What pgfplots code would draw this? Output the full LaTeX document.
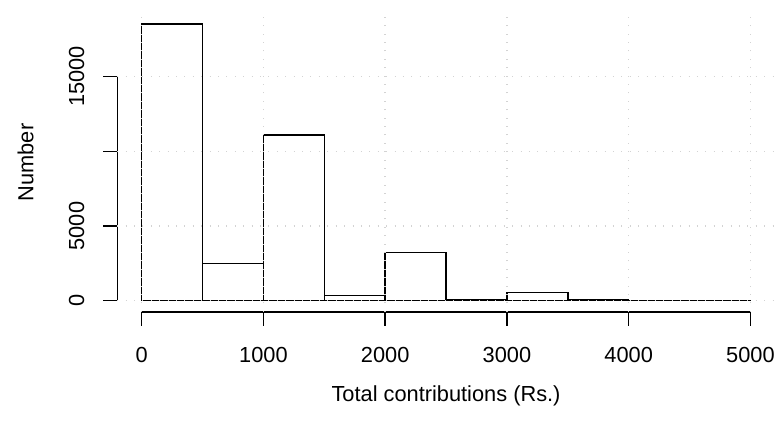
\documentclass[border=0pt]{standalone}
\usepackage{fontspec}
\setmainfont{Liberation Sans}
\usepackage{pgfplots}
\pgfplotsset{compat=1.18}
\definecolor{lgray}{HTML}{D3D3D3}
\begin{document}
\fontsize{10.9}{13}\selectfont
\begin{tikzpicture}
\useasboundingbox (-58.65pt,-54.6pt) rectangle ++(389pt,210.5pt);
\begin{axis}[
  at={(0,0)}, anchor=south west,
  scale only axis, width=328.75pt, height=149.4pt,
  xmin=-200, xmax=5200, ymin=-740.8, ymax=19260.8,
  scaled y ticks=false, scaled x ticks=false,
  clip=false, axis on top,
  axis line style={draw=none},
  tick pos=left, tick align=outside,
  major tick length=7pt,
  tick style={black, line width=0.75pt},
  xtick={0,1000,2000,3000,4000,5000},
  xticklabels={0,1000,2000,3000,4000,5000},
  ytick={0,5000,10000,15000},
  yticklabels={0,5000,,15000},
  xticklabel shift=6.9pt, yticklabel shift=5.6pt,
  yticklabel style={rotate=90, anchor=south},
  grid=major,
  major grid style={lgray, line width=0.75pt, dash pattern=on 0.5pt off 3.7pt},
  xlabel={Total contributions (Rs.)},
  ylabel={Number},
  xlabel style={at={(axis description cs:0.5,-0.3019)}, anchor=base},
  ylabel style={at={(axis description cs:-0.1278,0.5)}, anchor=base, rotate=0},
]
\addplot[ybar interval, draw=black, line width=0.75pt, fill=none] coordinates {
  (0,18520) (500,2500) (1000,11090) (1500,335) (2000,3240)
  (2500,95) (3000,535) (3500,50) (4000,20) (4500,10) (5000,0)
};
\draw[black, line width=0.75pt] (axis cs:0,-740.8) -- (axis cs:5000,-740.8);
\draw[black, line width=0.75pt] (axis cs:-200,0) -- (axis cs:-200,15000);
\end{axis}
\end{tikzpicture}
\end{document}
